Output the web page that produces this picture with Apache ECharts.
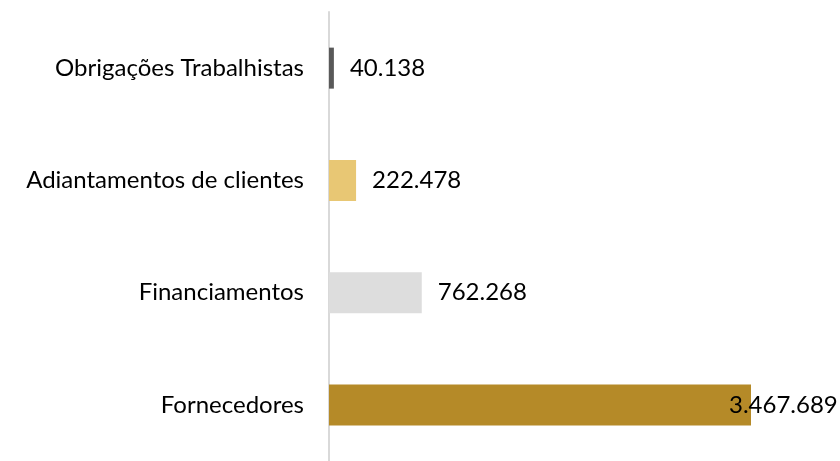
<!DOCTYPE html>
<html>
<head>
<meta charset="utf-8">
<script src="https://cdn.jsdelivr.net/npm/echarts@6/dist/echarts.min.js"></script>
<style>
  html, body { margin: 0; padding: 0; background: #fff; }
  #container { width: 840px; height: 461px; }
</style>
</head>
<body>
<div id="container"></div>
<script>
/* dados */
var categorias = ['Obrigações Trabalhistas', 'Adiantamentos de clientes', 'Financiamentos', 'Fornecedores'];
var valores = [40138, 222478, 762268, 3467689];
var cores = ['#595959', '#E8C774', '#DDDDDD', '#B58A28'];

/* formato 1.234.567 */
function fmt(v) {
    return String(v).replace(/\B(?=(\d{3})+(?!\d))/g, '.');
}

var dados = [];
for (var i = 0; i < valores.length; i++) {
    var item = {
        value: valores[i],
        itemStyle: { color: cores[i] }
    };
    /*ultima barra: rotulo puxado para dentro*/
    if (i == valores.length - 1) {
        item.label = { offset: [-38, 0] };
    }
    dados.push(item);
}

var dom = document.getElementById('container');
var myChart = echarts.init(dom);

var option = {
    animation: false,
    textStyle: { fontFamily: 'Lato' },
    grid: {
        left: 329,
        right: 89,
        top: 12,
        height: 456
    },
    xAxis: {
        type: 'value',
        min: 0,
        max: valores[valores.length - 1],
        show: false
    },
    yAxis: {
        type: 'category',
        inverse: true,
        data: categorias,
        axisLine: { lineStyle: { color: '#D9D9D9', width: 2 } },
        axisTick: { show: false },
        axisLabel: {
            margin: 25,
            color: '#000',
            fontSize: 24,
            fontFamily: 'Lato'
        }
    },
    series: [{
        type: 'bar',
        barWidth: 41,
        data: dados,
        label: {
            show: true,
            position: 'right',
            distance: 16,
            color: '#000',
            fontSize: 24,
            fontFamily: 'Lato',
            formatter: function (p) { return fmt(p.value); }
        }
    }]
};

myChart.setOption(option, true);
</script>
</body>
</html>
